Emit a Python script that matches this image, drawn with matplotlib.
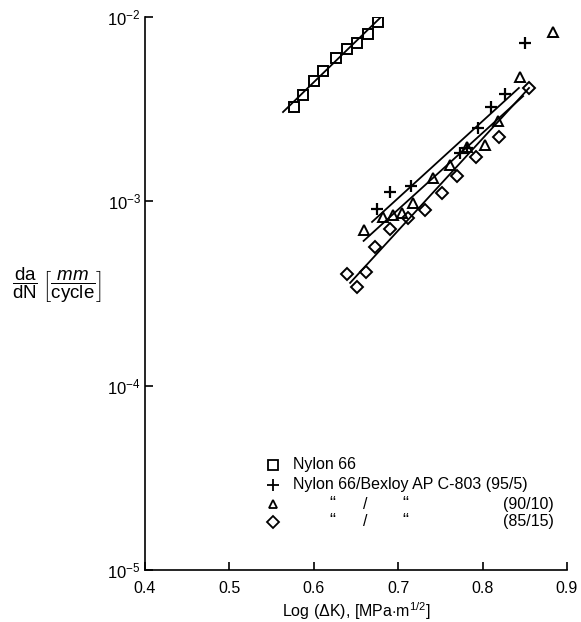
import numpy as np
import matplotlib
matplotlib.use('Agg')
import matplotlib.pyplot as plt
from matplotlib.ticker import FixedLocator, NullLocator, FixedFormatter

plt.rcParams.update({
    'font.family': ['Liberation Sans', 'DejaVu Sans'],
    'font.size': 11.5,
    'mathtext.fontset': 'custom',
    'mathtext.rm': 'Liberation Sans',
    'mathtext.it': 'Liberation Sans:italic',
    'mathtext.bf': 'Liberation Sans:bold',
    'axes.linewidth': 1.2,
})

# ── crack growth data: log(dK) vs da/dN (mm/cycle) ──
nylon_x = [0.577, 0.587, 0.600, 0.611, 0.626, 0.639, 0.651, 0.664, 0.676]
nylon_y = [3.25e-3, 3.78e-3, 4.50e-3, 5.09e-3, 6.0e-3, 6.7e-3, 7.22e-3, 8.09e-3, 9.4e-3]

b95_x = [0.675, 0.690, 0.715, 0.773, 0.782, 0.795, 0.810, 0.827, 0.850]
b95_y = [9.08e-4, 1.12e-3, 1.21e-3, 1.83e-3, 1.95e-3, 2.50e-3, 3.25e-3, 3.82e-3, 7.22e-3]

b90_x = [0.660, 0.682, 0.694, 0.705, 0.718, 0.741, 0.761, 0.782, 0.803, 0.818, 0.844, 0.883]
b90_y = [6.98e-4, 8.22e-4, 8.43e-4, 8.65e-4, 9.80e-4, 1.34e-3, 1.57e-3, 1.97e-3,
         2.02e-3, 2.73e-3, 4.72e-3, 8.29e-3]

b85_x = [0.639, 0.651, 0.662, 0.673, 0.690, 0.712, 0.732, 0.752, 0.770, 0.792, 0.819, 0.855]
b85_y = [4.04e-4, 3.43e-4, 4.13e-4, 5.65e-4, 7.08e-4, 8.12e-4, 8.97e-4, 1.11e-3,
         1.37e-3, 1.74e-3, 2.23e-3, 4.12e-3]

# fitted lines (end points)
fit_nylon_x = [0.5635, 0.6784]
fit_nylon_y = [3.05e-3, 9.87e-3]
fit_b95_x = [0.669, 0.843]
fit_b95_y = [7.73e-4, 4.12e-3]
fit_b90_x = [0.659, 0.848]
fit_b90_y = [6.10e-4, 3.72e-3]
fit_b85_x = [0.643, 0.855]
fit_b85_y = [3.61e-4, 4.12e-3]

x_ticks = [0.4, 0.5, 0.6, 0.7, 0.8, 0.9]
y_ticks = [1e-5, 1e-4, 1e-3, 1e-2]
y_ticklabels = [r'$10^{-5}$', r'$10^{-4}$', r'$10^{-3}$', r'$10^{-2}$']

fig = plt.figure(figsize=(5.81, 6.22), dpi=100)
ax = fig.add_axes([0.2496, 0.0836, 0.7263, 0.8891])

lw = 1.3
ax.plot(fit_nylon_x, fit_nylon_y, 'k-', lw=lw)
ax.plot(fit_b95_x, fit_b95_y, 'k-', lw=lw)
ax.plot(fit_b90_x, fit_b90_y, 'k-', lw=lw)
ax.plot(fit_b85_x, fit_b85_y, 'k-', lw=lw)

ax.plot(nylon_x, nylon_y, 's', ms=7, mfc='none', mec='k', mew=1.4)
ax.plot(b95_x, b95_y, '+', ms=9, mec='k', mew=1.6)
ax.plot(b90_x, b90_y, '^', ms=7, mfc='none', mec='k', mew=1.4)
ax.plot(b85_x, b85_y, 'D', ms=6.5, mfc='none', mec='k', mew=1.4)

ax.set_yscale('log')
ax.set_xlim(0.4, 0.9)
ax.set_ylim(1e-5, 1e-2)
ax.xaxis.set_major_locator(FixedLocator(x_ticks))
ax.set_xticklabels([f'{v:.1f}' for v in x_ticks])
ax.yaxis.set_major_locator(FixedLocator(y_ticks))
ax.yaxis.set_major_formatter(FixedFormatter(y_ticklabels))
ax.yaxis.set_minor_locator(NullLocator())
ax.tick_params(axis='both', direction='in', length=6, width=1.2)
ax.tick_params(axis='x', pad=8)
ax.tick_params(axis='y', pad=3, labelsize=12)
ax.spines['top'].set_visible(False)
ax.spines['right'].set_visible(False)

ax.set_xlabel(r'Log ($\Delta$K), [MPa$\cdot$m$^{1/2}$]', labelpad=3)
fig.text(0.098, 1 - 285 / 622,
         r'$\dfrac{\mathrm{da}}{\mathrm{dN}}\;\left[\dfrac{\mathit{mm}}{\mathrm{cycle}}\right]$',
         ha='center', va='center', fontsize=13.5)

# ── legend ──
leg_markers = ['s', '+', '^', 'D']
leg_sizes = [6.5, 8, 6, 6]
leg_rows = [0.190, 0.154, 0.119, 0.087]
for m, s, yy in zip(leg_markers, leg_sizes, leg_rows):
    ax.plot([0.303], [yy], m, ms=s, mfc='none', mec='k', mew=1.3,
            transform=ax.transAxes, clip_on=False)
ax.text(0.351, leg_rows[0], 'Nylon 66', transform=ax.transAxes, va='center')
ax.text(0.351, leg_rows[1], 'Nylon 66/Bexloy AP C-803 (95/5)',
        transform=ax.transAxes, va='center')
for yy, lab in zip(leg_rows[2:], ['(90/10)', '(85/15)']):
    ax.text(0.438, yy, '\u201c', transform=ax.transAxes, va='center', fontsize=13)
    ax.text(0.517, yy, '/', transform=ax.transAxes, va='center')
    ax.text(0.611, yy, '\u201c', transform=ax.transAxes, va='center', fontsize=13)
    ax.text(0.848, yy, lab, transform=ax.transAxes, va='center')

fig.savefig('out.png', dpi=100)
